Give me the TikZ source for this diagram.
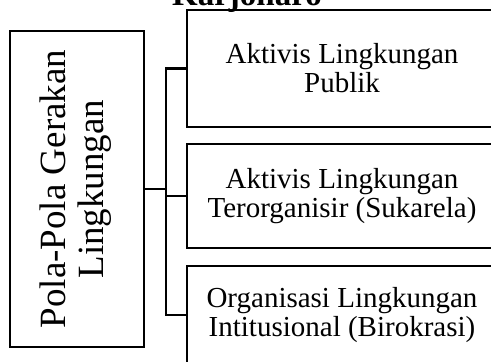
\documentclass[tikz,border=0pt]{standalone}
\usepackage{fontspec}
\setmainfont{Liberation Serif}
\begin{document}
\begin{tikzpicture}[x=1pt,y=-1pt,
  box/.style={draw,line width=2.4pt,inner sep=0pt,align=center},
  rbox/.style={box,minimum width=310pt,font=\fontsize{29}{29}\selectfont},
  wire/.style={line width=2.4pt}]
\useasboundingbox (0,0) rectangle (491,362);
\clip (0,0) rectangle (491,362);
\node[font=\fontsize{33}{33}\selectfont\bfseries,anchor=base] (T) at (247,5.5) {Karjoharo};
\node[box,minimum width=134pt,minimum height=316pt] (L) at (77,189)
  {\rotatebox{90}{\fontsize{37}{40}\selectfont\begin{tabular}{@{}c@{}}Pola-Pola Gerakan\\[-2pt] Lingkungan\end{tabular}}};
\node[rbox,minimum height=117pt] (B1) at (342,68.5) {Aktivis Lingkungan\\Publik};
\node[rbox,minimum height=104pt] (B2) at (342,196) {Aktivis Lingkungan\\Terorganisir (Sukarela)};
\node[rbox,minimum height=98pt] (B3) at (342,315) {Organisasi Lingkungan\\Intitusional (Birokrasi)};
\coordinate (J) at (166,189);
\draw[wire] (L.east) -- (J);
\draw[wire] (B1.west) -| (J) |- (B3.west);
\draw[wire] (J|-B2.west) -- (B2.west);
\end{tikzpicture}
\end{document}
